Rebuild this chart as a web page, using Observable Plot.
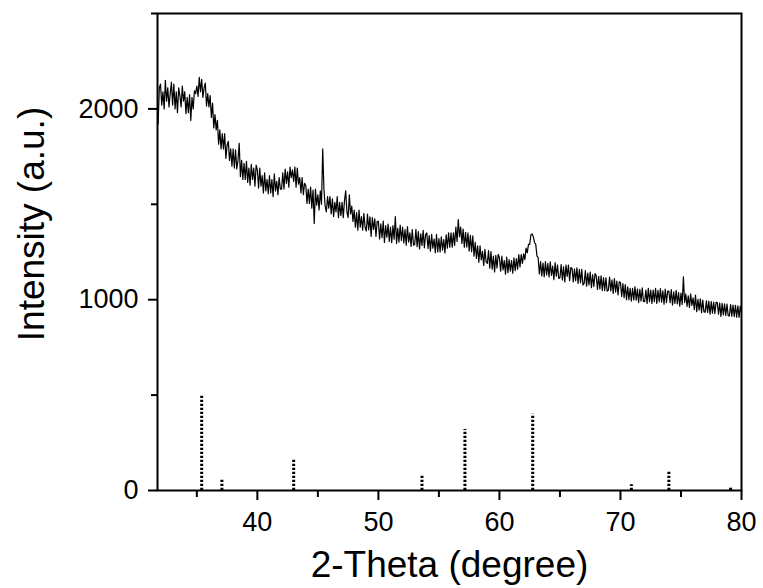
<!DOCTYPE html>
<html>
<head>
<meta charset="utf-8">
<script src="https://cdn.jsdelivr.net/npm/d3@7"></script>
<script src="https://cdn.jsdelivr.net/npm/@observablehq/plot@0.6"></script>
<style>
  html, body { margin: 0; padding: 0; background: #fff; }
</style>
</head>
<body>
<div id="chart"></div>
<script>
const thetaStart = 31.8;
const thetaStep = 0.1;
const intensity = [
  1920, 2110,
  2130, 2020, 2090, 2000, 2150, 2040, 2110, 2010, 2080, 2140,
  2020, 2130, 2000, 2090, 1980, 2110, 2070, 2010, 2120, 2040,
  2090, 1975, 2060, 1980, 2075, 1940, 2060, 2000, 2095, 2080,
  2120, 2065, 2165, 2090, 2155, 2060, 2110, 2135, 2015, 2080,
  2010, 2070, 1955, 2030, 1900, 1970, 1890, 1940, 1815, 1890,
  1790, 1870, 1790, 1870, 1740, 1810, 1830, 1730, 1790, 1700,
  1790, 1690, 1785, 1685, 1730, 1820, 1645, 1730, 1630, 1715,
  1630, 1725, 1615, 1690, 1600, 1710, 1630, 1690, 1595, 1705,
  1680, 1585, 1690, 1595, 1650, 1560, 1665, 1570, 1630, 1555,
  1650, 1560, 1630, 1540, 1660, 1570, 1620, 1550, 1640, 1580,
  1580, 1665, 1580, 1685, 1610, 1670, 1590, 1695, 1640, 1680,
  1620, 1695, 1590, 1690, 1605, 1640, 1560, 1640, 1550, 1610,
  1600, 1505, 1580, 1505, 1590, 1480, 1575, 1400, 1580, 1495,
  1550, 1470, 1570, 1500, 1790, 1580, 1490, 1460, 1540, 1480,
  1540, 1450, 1528, 1436, 1510, 1460, 1540, 1430, 1510, 1440,
  1510, 1430, 1520, 1570, 1460, 1430, 1550, 1450, 1490, 1410,
  1470, 1380, 1456, 1364, 1470, 1380, 1436, 1364, 1452, 1380,
  1360, 1448, 1366, 1434, 1332, 1430, 1368, 1424, 1332, 1410,
  1410, 1318, 1397, 1325, 1412, 1300, 1388, 1328, 1396, 1305,
  1380, 1299, 1388, 1317, 1436, 1295, 1374, 1302, 1391, 1310,
  1380, 1298, 1367, 1285, 1383, 1302, 1350, 1279, 1368, 1286,
  1290, 1369, 1278, 1357, 1266, 1345, 1284, 1363, 1272, 1341,
  1350, 1268, 1336, 1254, 1342, 1270, 1318, 1246, 1342, 1250,
  1320, 1250, 1330, 1260, 1315, 1245, 1340, 1270, 1350, 1275,
  1350, 1275, 1350, 1285, 1380, 1305, 1420, 1330, 1380, 1295,
  1370, 1275, 1353, 1276, 1350, 1255, 1337, 1252, 1334, 1228,
  1300, 1216, 1282, 1196, 1282, 1208, 1254, 1180, 1264, 1198,
  1190, 1257, 1165, 1252, 1160, 1228, 1146, 1233, 1166, 1238,
  1220, 1149, 1228, 1156, 1205, 1134, 1223, 1142, 1210, 1150,
  1205, 1139, 1219, 1152, 1215, 1160, 1236, 1172, 1237, 1190,
  1240, 1210, 1270, 1245, 1290, 1290, 1340, 1345, 1330, 1300,
  1290, 1230, 1220, 1135, 1200, 1125, 1192, 1120, 1200, 1130,
  1190, 1119, 1198, 1127, 1176, 1105, 1194, 1123, 1182, 1111,
  1115, 1184, 1103, 1172, 1093, 1182, 1122, 1181, 1100, 1168,
  1165, 1093, 1161, 1099, 1167, 1085, 1159, 1089, 1159, 1077,
  1085, 1153, 1071, 1139, 1077, 1145, 1063, 1131, 1069, 1137,
  1125, 1054, 1122, 1056, 1125, 1048, 1116, 1048, 1115, 1045,
  1050, 1118, 1046, 1104, 1033, 1111, 1040, 1097, 1025, 1094,
  1090, 1017, 1084, 1011, 1079, 1000, 1067, 1000, 1060, 993,
  1060, 999, 1068, 997, 1056, 985, 1054, 993, 1062, 991,
  990, 1050, 980, 1060, 990, 1050, 980, 1050, 990, 1060,
  980, 1049, 989, 1058, 987, 1047, 977, 1056, 985, 1045,
  1045, 984, 1053, 972, 1041, 980, 1049, 978, 1037, 966,
  1035, 975, 1120, 985, 1030, 965, 1020, 960, 1030, 970,
  1010, 948, 1024, 937, 1002, 945, 1004, 932, 998, 936,
  935, 994, 933, 992, 924, 990, 929, 988, 927, 986,
  985, 924, 983, 912, 981, 920, 978, 917, 977, 916,
  915, 974, 913, 972, 911, 970, 909, 968, 907, 966,
  930
];

// Reference (standard card) stick pattern
const refPositions = [35.4, 37.07, 43.0, 53.6, 57.15, 62.75, 70.9, 74.0, 79.1];
const refIntensities = [500, 60, 160, 80, 320, 400, 30, 100, 20];

// Tick values
const xMajorTicks = [40, 50, 60, 70, 80];
const xMinorTicks = [35, 45, 55, 65, 75];
const yMajorTicks = [0, 1000, 2000];
const yMinorTicks = [500, 1500, 2500];

const xLabel = "2-Theta (degree)";
const yLabel = "Intensity (a.u.)";

const pattern = intensity.map((v, i) => ({
  theta: Math.round((thetaStart + i * thetaStep) * 100) / 100,
  intensity: v
}));
const sticks = refPositions.map((p, i) => ({ theta: p, intensity: refIntensities[i] }));

const font = "'Liberation Sans', Arial, Helvetica, sans-serif";

const chart = Plot.plot({
  width: 763,
  height: 588,
  marginLeft: 157,
  marginRight: 22,
  marginTop: 13,
  marginBottom: 98,
  style: { fontFamily: font, background: "#fff", color: "#000" },
  x: { domain: [31.75, 80] },
  y: { domain: [0, 2500] },
  marks: [
    Plot.ruleX(sticks, {
      x: "theta", y1: 0, y2: "intensity",
      stroke: "#000", strokeWidth: 3, strokeDasharray: "2.3,1.7"
    }),
    Plot.line(pattern, { x: "theta", y: "intensity", stroke: "#000", strokeWidth: 1.2 }),
    Plot.frame({ stroke: "#000", strokeWidth: 2 }),
    Plot.axisX(xMinorTicks, { tickSize: 7, tickFormat: () => "", strokeWidth: 2, label: null }),
    Plot.axisX(xMajorTicks, {
      tickSize: 10, tickPadding: 11, strokeWidth: 2, fontSize: 27,
      fontFamily: font, label: null
    }),
    Plot.axisY(yMinorTicks, { tickSize: 6, tickFormat: () => "", strokeWidth: 2, label: null }),
    Plot.axisY(yMajorTicks, {
      tickSize: 9, tickPadding: 10, strokeWidth: 2, fontSize: 27,
      fontFamily: font, label: null, tickFormat: d3.format("d")
    }),
    Plot.text([xLabel], {
      frameAnchor: "bottom", lineAnchor: "bottom", dy: 86,
      fontSize: 37, fontFamily: font, fill: "#000"
    }),
    Plot.text([yLabel], {
      frameAnchor: "left", textAnchor: "middle", lineAnchor: "bottom",
      rotate: -90, dx: -114, dy: -28,
      fontSize: 37, fontFamily: font, fill: "#000"
    })
  ]
});

document.getElementById("chart").appendChild(chart);
</script>
</body>
</html>
